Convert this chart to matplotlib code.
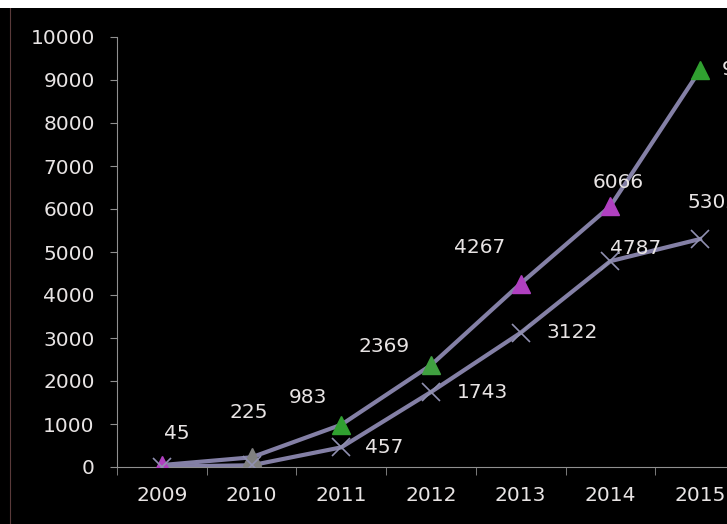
import matplotlib.pyplot as plt
from matplotlib.ticker import FixedLocator

years = ["2009", "2010", "2011", "2012", "2013", "2014", "2015"]
series_a = [45, 225, 983, 2369, 4267, 6066, 9233]
series_b = [10, 40, 457, 1743, 3122, 4787, 5302]
labels_a = ["45", "225", "983", "2369", "4267", "6066", "9233"]
labels_b = ["", "", "457", "1743", "3122", "4787", "5302"]
tri_colors = ["#b040c0", "#808080", "#30a030", "#40a040", "#b040c0", "#b040c0", "#30a030"]

# label offsets in pixels (dx, dy, ha) - picked to match the reference placement
off_a = [(2, 32, "left"), (-3, 45, "center"), (-33, 27, "center"), (-47, 19, "center"),
         (-41, 36, "center"), (8, 24, "center"), (22, 0, "left")]
off_b = [None, None, (24, 0, "left"), (26, 0, "left"), (26, 0, "left"),
         (25, 13, "center"), (-13, 37, "left")]

fig = plt.figure(figsize=(7.27, 5.24), dpi=100, facecolor="black")
# white strip along the top edge and thin border at left
fig.patches.append(plt.Rectangle((0, 1 - 8 / 524), 1, 8 / 524, transform=fig.transFigure,
                                 facecolor="white", edgecolor="none", zorder=10))
fig.lines.append(plt.Line2D([9.5 / 727, 9.5 / 727], [0, 1 - 8 / 524], transform=fig.transFigure,
                            color="#5a3a3a", lw=0.8))
ax = fig.add_axes([117 / 727, 57 / 524, 1 - 117 / 727, 430 / 524])
ax.set_facecolor("black")

x = list(range(len(years)))
line_col = "#8480a6"
ax.plot(x, series_a, color=line_col, lw=3, zorder=3)
ax.plot(x, series_b, color=line_col, lw=3, zorder=3)
for xi, yi, c in zip(x, series_a, tri_colors):
    ax.plot(xi, yi, marker="^", ms=13, color=c, mec=c, zorder=4)
ax.plot(x, series_b, ls="none", marker="x", ms=13, mew=1.2, color="#9090b0", zorder=4)

px = 72 / 100
txt = dict(color="#e8e4e4", fontsize=14.5, va="center")
for xi, yi, s, o in zip(x, series_a, labels_a, off_a):
    ax.annotate(s, (xi, yi), xytext=(o[0] * px, o[1] * px), textcoords="offset points",
                ha=o[2], annotation_clip=False, **txt)
for xi, yi, s, o in zip(x, series_b, labels_b, off_b):
    if not s:
        continue
    ax.annotate(s, (xi, yi), xytext=(o[0] * px, o[1] * px), textcoords="offset points",
                ha=o[2], annotation_clip=False, **txt)

ax.set_xlim(-0.5, 6.3)
ax.set_ylim(0, 10000)
ax.set_yticks(range(0, 10001, 1000))
ax.set_xticks(x)
ax.set_xticklabels(years)
ax.xaxis.set_minor_locator(FixedLocator([i - 0.5 for i in range(8)]))
ax.tick_params(axis="x", which="major", length=0, pad=14, colors="#e8e4e4", labelsize=14.5)
ax.tick_params(axis="x", which="minor", length=6, color="#909090", direction="out")
ax.tick_params(axis="y", length=5, color="#909090", colors="#e8e4e4", labelsize=14.5, pad=11)
for side in ["top", "right"]:
    ax.spines[side].set_visible(False)
for side in ["left", "bottom"]:
    ax.spines[side].set_color("#909090")

plt.savefig("out.png", dpi=100, facecolor=fig.get_facecolor())
